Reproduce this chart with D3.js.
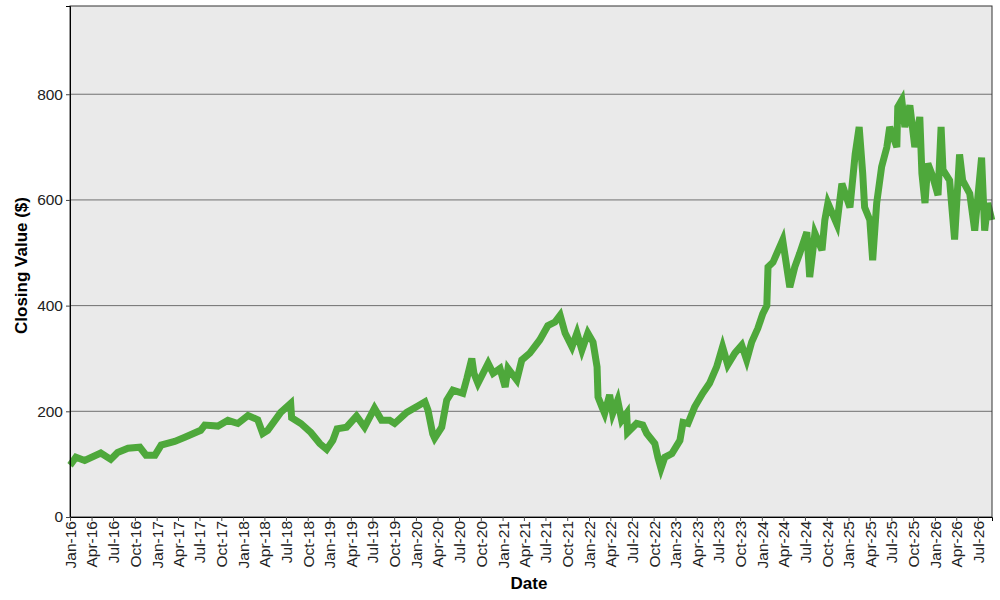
<!DOCTYPE html>
<html lang="en">
<head>
    <meta charset="UTF-8">
    <title>Closing Value</title>
    <style>
        body {
            margin: 0;
            background: #ffffff;
            font-family: "Liberation Sans", Arial, sans-serif;
        }
        .tick text {
            font-size: 15.5px;
            fill: #222;
        }
        .axis-title {
            font-size: 17px;
            font-weight: bold;
            fill: #000;
        }
    </style>
    <script src="https://d3js.org/d3.v7.min.js"></script>
</head>
<body>
    <div id="chart"></div>

    <script>
        // closing values
        const dates = [
            "2016-01-01", "2016-01-05", "2016-01-26", "2016-03-03", "2016-05-10", "2016-06-21", "2016-07-20",
            "2016-09-02", "2016-10-22", "2016-11-17", "2016-12-25", "2017-01-20", "2017-03-18", "2017-04-30",
            "2017-07-06", "2017-07-23", "2017-09-17", "2017-10-29", "2017-12-10", "2018-01-22", "2018-03-04",
            "2018-03-25", "2018-04-15", "2018-06-09", "2018-07-21", "2018-07-25", "2018-09-02", "2018-10-14",
            "2018-11-21", "2018-12-20", "2019-01-15", "2019-02-02", "2019-03-14", "2019-04-25", "2019-05-29",
            "2019-07-10", "2019-08-09", "2019-09-12", "2019-10-03", "2019-11-23", "2020-01-09", "2020-02-08",
            "2020-02-21", "2020-03-12", "2020-03-20", "2020-04-19", "2020-05-10", "2020-06-05", "2020-07-17",
            "2020-08-03", "2020-08-24", "2020-09-02", "2020-09-19", "2020-11-01", "2020-11-22", "2020-12-21",
            "2021-01-12", "2021-01-24", "2021-03-02", "2021-03-23", "2021-04-26", "2021-06-07", "2021-07-11",
            "2021-08-10", "2021-09-01", "2021-09-22", "2021-10-21", "2021-11-11", "2021-12-02", "2021-12-27",
            "2022-01-18", "2022-02-04", "2022-02-08", "2022-02-25", "2022-03-08", "2022-03-29", "2022-04-11",
            "2022-05-02", "2022-05-19", "2022-06-09", "2022-06-13", "2022-07-21", "2022-08-16", "2022-09-02",
            "2022-10-06", "2022-10-19", "2022-11-01", "2022-11-17", "2022-12-17", "2023-01-20", "2023-02-02",
            "2023-02-23", "2023-03-23", "2023-04-26", "2023-05-25", "2023-06-24", "2023-07-19", "2023-08-10",
            "2023-09-09", "2023-10-08", "2023-10-29", "2023-11-19", "2023-12-15", "2024-01-05", "2024-01-22",
            "2024-01-27", "2024-02-17", "2024-03-29", "2024-04-28", "2024-05-19", "2024-06-09", "2024-07-09",
            "2024-07-21", "2024-08-12", "2024-09-11", "2024-09-23", "2024-10-06", "2024-11-13", "2024-12-04",
            "2025-01-07", "2025-01-29", "2025-02-15", "2025-03-02", "2025-03-10", "2025-04-01", "2025-04-13",
            "2025-04-30", "2025-05-21", "2025-06-12", "2025-06-24", "2025-07-24", "2025-07-28", "2025-08-14",
            "2025-08-27", "2025-09-17", "2025-10-08", "2025-10-29", "2025-11-07", "2025-11-20", "2025-12-02",
            "2025-12-23", "2026-01-14", "2026-01-27", "2026-02-04", "2026-03-04", "2026-03-25", "2026-04-15",
            "2026-04-28", "2026-05-28", "2026-06-18", "2026-07-17", "2026-07-30", "2026-08-12", "2026-08-29"
        ];
        const closes = [
            98, 100, 113, 107, 121, 109, 122,
            130, 132, 117, 117, 136, 143, 151,
            164, 174, 172, 183, 177, 192, 184,
            158, 164, 198, 215, 188, 177, 160,
            139, 128, 145, 167, 170, 191, 170,
            206, 183, 183, 177, 198, 210, 218,
            202, 157, 149, 170, 221, 240, 234,
            262, 300, 272, 253, 291, 272, 281,
            246, 281, 259, 297, 310, 335, 362,
            369, 382, 348, 322, 348, 316, 348,
            331, 284, 227, 208, 196, 231, 196,
            221, 183, 196, 160, 177, 174, 158,
            139, 113, 92, 113, 120, 145, 179,
            177, 208, 234, 253, 284, 322, 288,
            310, 325, 297, 331, 357, 385, 400,
            473, 482, 524, 435, 473, 499, 539,
            454, 537, 505, 562, 594, 554, 631,
            586, 686, 738, 650, 586, 562, 486,
            594, 663, 700, 738, 700, 776, 789,
            738, 779, 700, 757, 650, 594, 669,
            644, 609, 738, 657, 637, 525, 686,
            637, 612, 542, 680, 542, 594, 562
        ];
        const yTicks = [0, 200, 400, 600, 800];
        const yMax = 967;
        const xStart = "2016-01-01";
        const xEnd = "2026-08-30";

        const parseDate = d3.timeParse("%Y-%m-%d");
        const data = dates.map((d, i) => ({ date: parseDate(d), value: closes[i] }));

        const width = 1000;
        const height = 600;
        const margin = { top: 6, right: 8, bottom: 83, left: 70 };
        const innerW = width - margin.left - margin.right;
        const innerH = height - margin.top - margin.bottom;

        const svg = d3.select("#chart")
            .append("svg")
            .attr("width", width)
            .attr("height", height);

        const g = svg.append("g")
            .attr("transform", `translate(${margin.left},${margin.top})`);

        const x = d3.scaleTime()
            .domain([parseDate(xStart), parseDate(xEnd)])
            .range([0, innerW]);

        const y = d3.scaleLinear()
            .domain([0, yMax])
            .range([innerH, 0]);

        // plot background
        g.append("rect")
            .attr("width", innerW)
            .attr("height", innerH)
            .attr("fill", "#eaeaea");

        // horizontal gridlines
        g.selectAll("line.grid")
            .data(yTicks.filter(t => t > 0))
            .enter()
            .append("line")
            .attr("class", "grid")
            .attr("x1", 0)
            .attr("x2", innerW)
            .attr("y1", d => y(d))
            .attr("y2", d => y(d))
            .attr("stroke", "#707070")
            .attr("stroke-width", 1);

        // the series
        const line = d3.line()
            .x(d => x(d.date))
            .y(d => y(d.value));

        g.append("path")
            .datum(data)
            .attr("fill", "none")
            .attr("stroke", "#4ea83b")
            .attr("stroke-width", 7)
            .attr("stroke-linejoin", "miter")
            .attr("d", line);

        // plot border
        g.append("rect")
            .attr("width", innerW)
            .attr("height", innerH)
            .attr("fill", "none")
            .attr("stroke", "#333")
            .attr("stroke-width", 1);

        // y axis
        const yAxis = g.append("g")
            .call(d3.axisLeft(y).tickValues(yTicks).tickSize(4).tickPadding(3).tickFormat(d3.format("d")));
        yAxis.select(".domain").attr("stroke", "#000");
        yAxis.selectAll(".tick line").attr("stroke", "#444");

        // x axis, one tick per quarter
        const xAxis = g.append("g")
            .attr("transform", `translate(0,${innerH})`)
            .call(d3.axisBottom(x)
                .ticks(d3.timeMonth.every(3))
                .tickSize(4)
                .tickFormat(d3.timeFormat("%b-%y")));
        xAxis.select(".domain").attr("stroke", "#000");
        xAxis.selectAll(".tick line").attr("stroke", "#444");
        xAxis.selectAll(".tick text")
            .attr("text-anchor", "end")
            .attr("transform", "rotate(-90)")
            .attr("x", -4)
            .attr("y", 0)
            .attr("dy", "0.35em");

        // axis titles
        svg.append("text")
            .attr("class", "axis-title")
            .attr("text-anchor", "middle")
            .attr("transform", `translate(27,${margin.top + innerH / 2 + 4}) rotate(-90)`)
            .text("Closing Value ($)");

        svg.append("text")
            .attr("class", "axis-title")
            .attr("text-anchor", "middle")
            .attr("x", margin.left + innerW / 2 - 2)
            .attr("y", 589)
            .text("Date");
    </script>
</body>
</html>
